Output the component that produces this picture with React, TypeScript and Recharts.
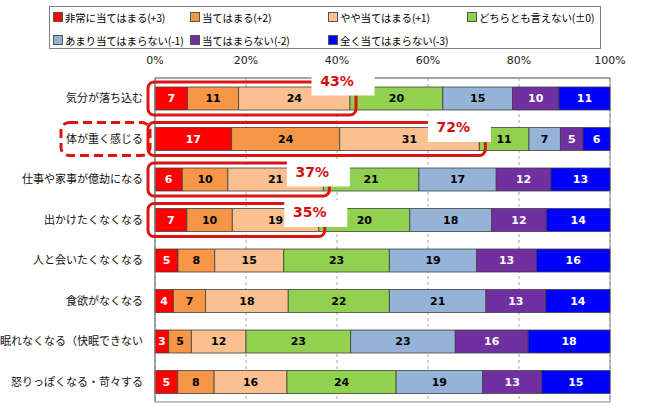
import React from "react";
import {
  BarChart,
  Bar,
  XAxis,
  YAxis,
  CartesianGrid,
  LabelList,
  ReferenceArea,
} from "recharts";

const categories = [
  "気分が落ち込む",
  "体が重く感じる",
  "仕事や家事が億劫になる",
  "出かけたくなくなる",
  "人と会いたくなくなる",
  "食欲がなくなる",
  "眠れなくなる（快眠できない",
  "怒りっぽくなる・苛々する",
];

const answerLabels = [
  "非常に当てはまる(+3)",
  "当てはまる(+2)",
  "やや当てはまる(+1)",
  "どちらとも言えない(±0)",
  "あまり当てはまらない(-1)",
  "当てはまらない(-2)",
  "全く当てはまらない(-3)",
];

// 回答ごとの値 (%)
const veryTrue = [7, 17, 6, 7, 5, 4, 3, 5];
const fairlyTrue = [11, 24, 10, 10, 8, 7, 5, 8];
const slightlyTrue = [24, 31, 21, 19, 15, 18, 12, 16];
const neutral = [20, 11, 21, 20, 23, 22, 23, 24];
const slightlyFalse = [15, 7, 17, 18, 19, 21, 23, 19];
const fairlyFalse = [10, 5, 12, 12, 13, 13, 16, 13];
const veryFalse = [11, 6, 13, 14, 16, 14, 18, 15];

// 上位3つの合計 (吹き出し)
const topThreePct = [43, 72, 37, 35, null, null, null, null];

const xTicks = [0, 0.2, 0.4, 0.6, 0.8, 1];

const seriesKeys = ["p3", "p2", "p1", "z0", "m1", "m2", "m3"];
const seriesValues = [veryTrue, fairlyTrue, slightlyTrue, neutral, slightlyFalse, fairlyFalse, veryFalse];
const seriesColors = ["#FF0000", "#F79646", "#FAC090", "#92D050", "#95B3D7", "#7030A0", "#0000FF"];
const labelColors = ["#fff", "#000", "#000", "#000", "#000", "#fff", "#fff"];

const chartData = categories.map((name, i) => {
  const row: any = { name };
  seriesKeys.forEach((k, s) => (row[k] = seriesValues[s][i]));
  return row;
});

// 吹き出しの位置調整 (テキスト中心: 上位3つの右端からのずれ)
const calloutNudge = [
  { dx: -13, dy: -18 },
  { dx: -26, dy: -12 },
  { dx: -11, dy: -8 },
  { dx: -9, dy: -8 },
];

const RED = "#DC1414";

const Callout = (props: any) => {
  const vb = props.viewBox || props;
  const x = Number(vb.x ?? props.x);
  const y = Number(vb.y ?? props.y);
  const w = Number(vb.width ?? props.width);
  const h = Number(vb.height ?? props.height);
  const i = categories.indexOf(props.value);
  if (i < 0 || topThreePct[i] == null) return null;

  // 最後の区分の幅から全体の幅を求める
  const total = seriesValues.reduce((acc, arr) => acc + arr[i], 0);
  const fullW = (w * total) / veryFalse[i];
  const end = x + w;
  const start = end - fullW;
  const top3 = veryTrue[i] + fairlyTrue[i] + slightlyTrue[i];
  const e = start + (fullW * top3) / total;
  const cy = y + h / 2;
  const n = calloutNudge[i];
  const tx = e + n.dx;
  const ty = cy + n.dy;

  return (
    <g>
      {i === 1 && (
        <rect
          x={start - 94}
          y={cy - 16.5}
          width={89}
          height={33}
          rx={8}
          fill="none"
          stroke={RED}
          strokeWidth={3}
          strokeDasharray="9 5"
        />
      )}
      <rect
        x={start - 7}
        y={cy - 16.5}
        width={e - start + 13}
        height={33}
        rx={6}
        fill="none"
        stroke={RED}
        strokeWidth={3}
      />
      <rect x={tx + 6 - 31.5} y={ty + 1.5 - 13.5} width={63} height={27} fill="#fff" />
      <text
        x={tx}
        y={ty}
        textAnchor="middle"
        dominantBaseline="central"
        fontFamily="DejaVu Sans"
        fontWeight="bold"
        fontSize={14}
        fill="#D01010"
      >
        {`${topThreePct[i]}%`}
      </text>
    </g>
  );
};

const Legend = () => {
  const cols = [53, 190, 328, 467];
  const rows = [17, 40];
  return (
    <div
      style={{
        position: "absolute",
        left: 49,
        top: 6,
        width: 552,
        height: 43,
        border: "1px solid #7f7f7f",
        boxSizing: "border-box",
      }}
    >
      {answerLabels.map((lab, i) => {
        const c = i < 4 ? i : i - 4;
        const r = i < 4 ? 0 : 1;
        return (
          <div
            key={lab}
            style={{
              position: "absolute",
              left: cols[c] - 50,
              top: rows[r] - 7 - 9,
              height: 18,
              display: "flex",
              alignItems: "center",
              whiteSpace: "nowrap",
              fontFamily: "'Noto Sans CJK JP'",
              fontSize: 10.5,
              letterSpacing: -0.2,
              color: "#000",
            }}
          >
            <span
              style={{
                display: "inline-block",
                width: 8,
                height: 8,
                background: seriesColors[i],
                border: "1px solid #555",
                marginRight: 2,
              }}
            />
            {lab}
          </div>
        );
      })}
    </div>
  );
};

export default function App() {
  return (
    <div style={{ position: "absolute", left: 0, top: 0, width: 650, height: 417, background: "#fff" }}>
      <Legend />
      <BarChart
        width={650}
        height={417}
        data={chartData}
        layout="vertical"
        stackOffset="expand"
        barSize={23}
        margin={{ top: 48, right: 40, bottom: 15, left: 0 }}
      >
        <CartesianGrid horizontal={false} stroke="#a6a6a6" strokeDasharray="3 3" />
        <ReferenceArea x1={0} x2={1} fill="none" stroke="#868686" strokeWidth={1} />
        <XAxis
          type="number"
          orientation="top"
          domain={[0, 1]}
          ticks={xTicks}
          tickFormatter={(v) => `${Math.round(v * 100)}%`}
          tickLine={false}
          tickSize={0}
          tickMargin={14}
          axisLine={{ stroke: "#868686" }}
          tick={{ fontSize: 11, fill: "#222", fontFamily: "DejaVu Sans" }}
          height={30}
        />
        <YAxis
          type="category"
          dataKey="name"
          width={155}
          tickLine={false}
          tickSize={0}
          tickMargin={12}
          axisLine={{ stroke: "#868686" }}
          tick={{ fontSize: 11, fill: "#111", fontFamily: "'Noto Sans CJK JP'" }}
          interval={0}
        />
        {seriesKeys.map((k, s) => (
          <Bar
            key={k}
            dataKey={k}
            stackId="a"
            fill={seriesColors[s]}
            stroke="#3f3f3f"
            strokeWidth={0.8}
            isAnimationActive={false}
          >
            <LabelList
              dataKey={k}
              position="center"
              fill={labelColors[s]}
              fontSize={11}
              fontWeight="bold"
              fontFamily="DejaVu Sans"
            />
            {s === seriesKeys.length - 1 && <LabelList dataKey="name" content={<Callout />} />}
          </Bar>
        ))}
      </BarChart>
    </div>
  );
}
